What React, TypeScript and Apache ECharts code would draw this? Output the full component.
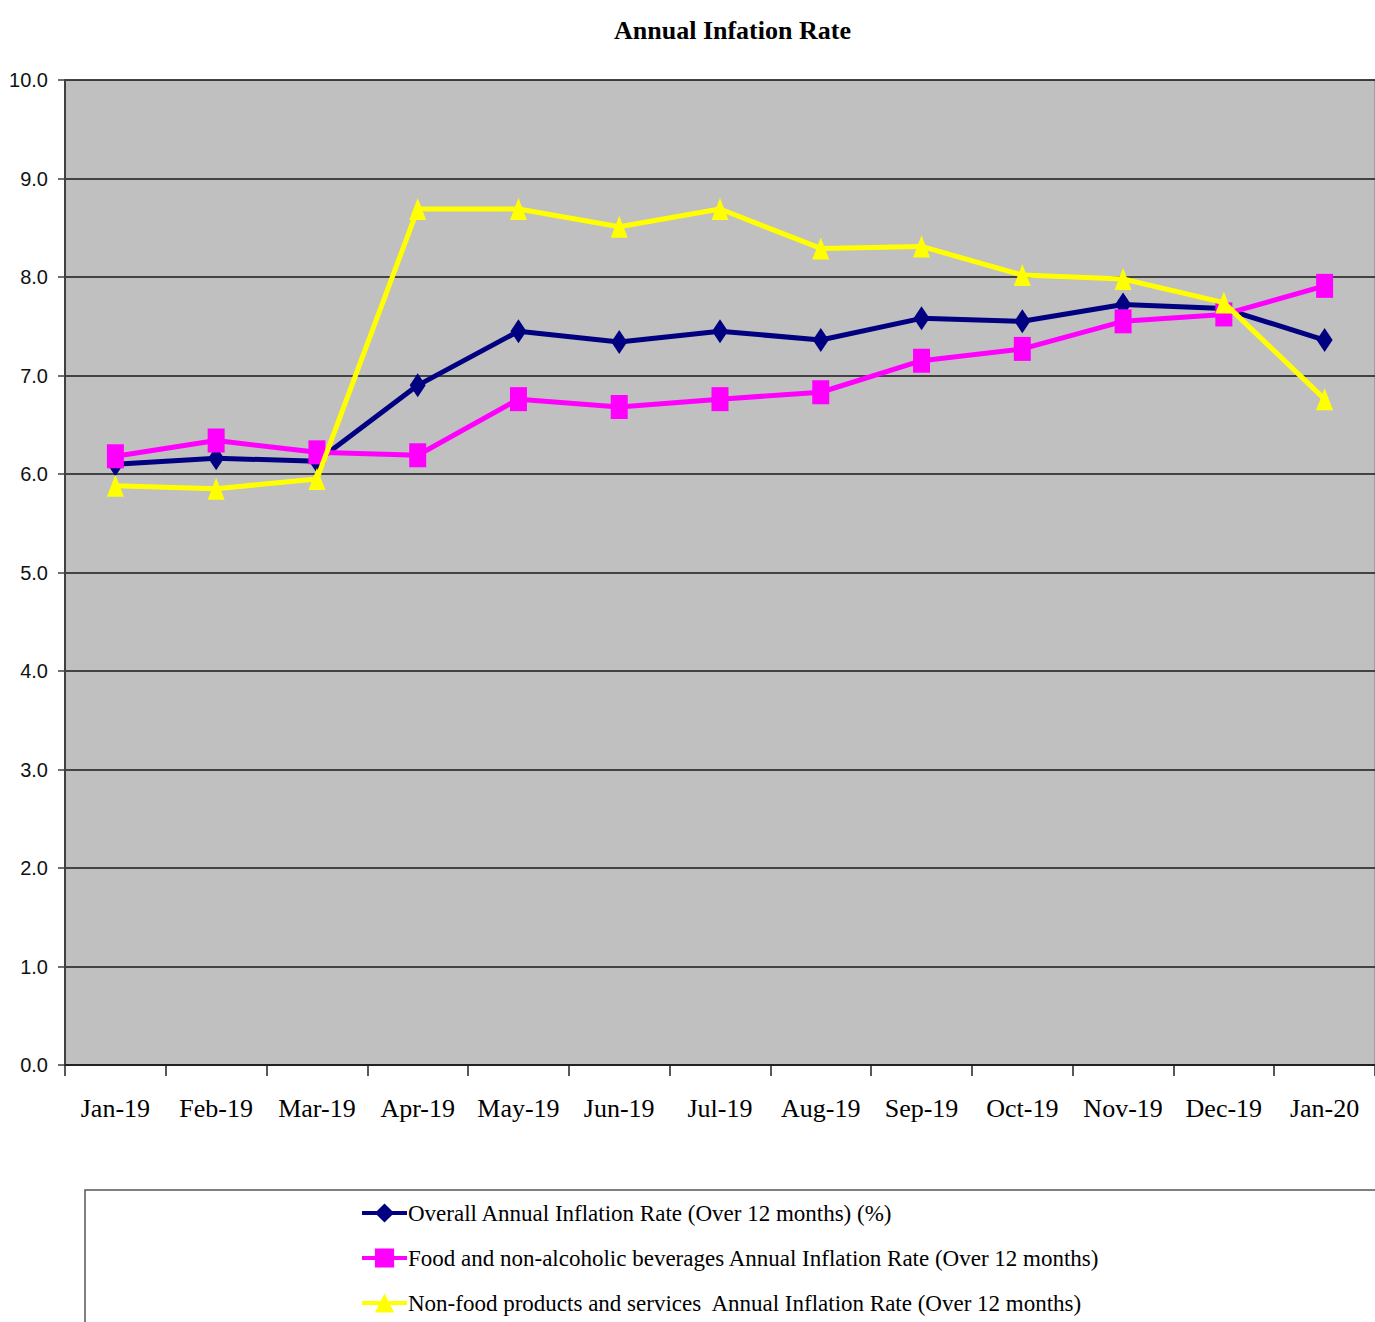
import React, { useEffect, useRef } from "react";
import * as echarts from "echarts";

const categories = ["Jan-19", "Feb-19", "Mar-19", "Apr-19", "May-19", "Jun-19", "Jul-19", "Aug-19", "Sep-19", "Oct-19", "Nov-19", "Dec-19", "Jan-20"];
const overall = [6.10, 6.16, 6.13, 6.90, 7.45, 7.34, 7.45, 7.36, 7.58, 7.55, 7.72, 7.68, 7.36];
const food = [6.18, 6.34, 6.22, 6.19, 6.76, 6.68, 6.76, 6.83, 7.15, 7.27, 7.55, 7.62, 7.91];
const nonFood = [5.88, 5.85, 5.95, 8.69, 8.69, 8.51, 8.69, 8.29, 8.31, 8.02, 7.98, 7.74, 6.76];

const seriesNames = [
  "Overall Annual Inflation Rate (Over 12 months) (%)",
  "Food and non-alcoholic beverages Annual Inflation Rate (Over 12 months)",
  "Non-food products and services  Annual Inflation Rate (Over 12 months)",
];

export default function App() {
  const ref = useRef<HTMLDivElement>(null);
  useEffect(() => {
    document.body.style.margin = "0";
    const chart = echarts.init(ref.current!, null, { renderer: "svg" });
    const serif = "Liberation Serif, Times New Roman, serif";
    const sans = "Liberation Sans, Arial, sans-serif";
    chart.setOption({
      animation: false,
      backgroundColor: "#ffffff",
      title: {
        text: "Annual Infation Rate",
        left: 609,
        top: 12,
        textStyle: { fontFamily: serif, fontSize: 26, fontWeight: "bold", color: "#000" },
      },
      graphic: [
        {
          type: "rect",
          z: -1,
          silent: true,
          shape: { x: 85, y: 1190, width: 1400, height: 300 },
          style: { fill: "none", stroke: "#555555", lineWidth: 1.5 },
        },
      ],
      grid: {
        left: 65,
        right: 0,
        top: 80,
        bottom: 257,
        show: true,
        backgroundColor: "#C0C0C0",
        borderColor: "#808080",
        borderWidth: 1,
      },
      legend: {
        orient: "vertical",
        left: 360,
        top: 1199,
        padding: 0,
        itemWidth: 45,
        itemHeight: 24,
        itemGap: 17,
        lineStyle: { width: 4 },
        textStyle: { fontFamily: serif, fontSize: 23, color: "#000", lineHeight: 28, padding: [0, 0, 0, -4] },
        data: seriesNames,
      },
      xAxis: {
        type: "category",
        data: categories,
        boundaryGap: true,
        axisLine: { lineStyle: { color: "#222", width: 2 } },
        axisTick: { show: true, length: 11, interval: 0, lineStyle: { color: "#222", width: 1.5 } },
        axisLabel: { fontFamily: serif, fontSize: 26, color: "#000", margin: 30, interval: 0 },
      },
      yAxis: {
        type: "value",
        min: 0,
        max: 10,
        interval: 1,
        axisLine: { show: true, lineStyle: { color: "#404040", width: 2 } },
        axisTick: { show: true, length: 7, lineStyle: { color: "#404040", width: 1.5 } },
        axisLabel: {
          fontFamily: sans,
          fontSize: 20,
          color: "#111",
          margin: 17,
          formatter: (v: number) => v.toFixed(1),
        },
        splitLine: { show: true, lineStyle: { color: "#1a1a1a", width: 1.5 } },
      },
      series: [
        {
          name: seriesNames[0],
          type: "line",
          data: overall,
          z: 3,
          symbol: "diamond",
          symbolSize: [16, 24],
          itemStyle: { color: "#000080" },
          lineStyle: { color: "#000080", width: 5 },
        },
        {
          name: seriesNames[1],
          type: "line",
          data: food,
          z: 4,
          symbol: "rect",
          symbolSize: [17, 24],
          itemStyle: { color: "#FF00FF" },
          lineStyle: { color: "#FF00FF", width: 5 },
        },
        {
          name: seriesNames[2],
          type: "line",
          data: nonFood,
          z: 5,
          symbol: "triangle",
          symbolSize: [17, 22],
          itemStyle: { color: "#FFFF00" },
          lineStyle: { color: "#FFFF00", width: 5 },
        },
      ],
    });
    return () => chart.dispose();
  }, []);
  return <div ref={ref} style={{ width: 1375, height: 1322 }} />;
}
